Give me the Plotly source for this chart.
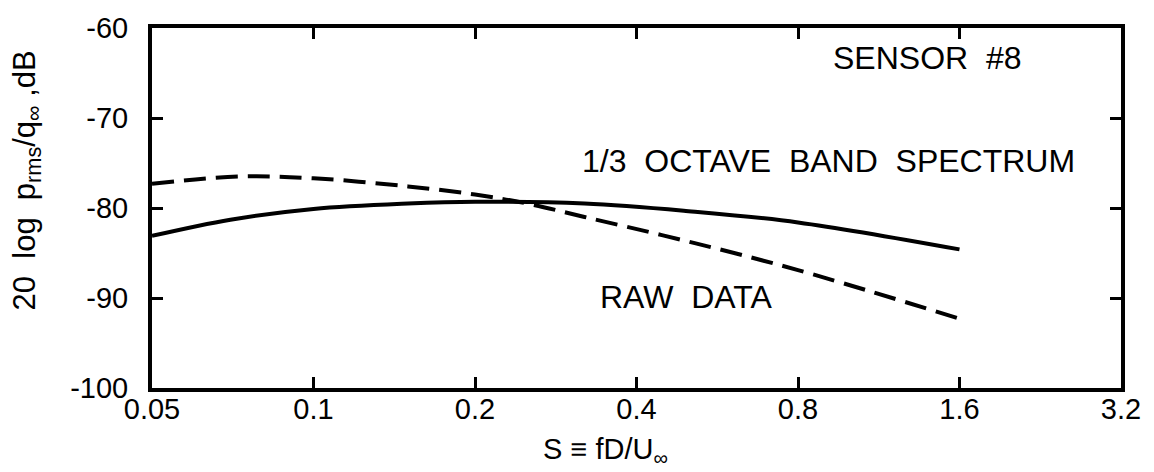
import plotly.graph_objects as go

# Strouhal number S = fD/U_inf
s_band = [0.05, 0.07, 0.1, 0.15, 0.2, 0.32, 0.49, 0.8, 1.6]
db_band = [-83.1, -81.3, -80.1, -79.5, -79.3, -79.5, -80.3, -81.6, -84.6]

s_raw = [0.05, 0.073, 0.1, 0.15, 0.2, 0.25, 0.32, 0.49, 0.8, 1.6]
db_raw = [-77.3, -76.5, -76.7, -77.6, -78.5, -79.5, -81.0, -83.6, -86.9, -92.3]

x_ticks = [0.05, 0.1, 0.2, 0.4, 0.8, 1.6, 3.2]
x_tick_text = ["0.05", "0.1", "0.2", "0.4", "0.8", "1.6", "3.2"]
y_ticks = [-60, -70, -80, -90, -100]
y_tick_text = ["-60", "-70", "-80", "-90", "-100"]

FONT = "Liberation Sans, Arial, sans-serif"
W, H = 1154, 472
L, R, T, B = 152, 33, 22, 84

fig = go.Figure()
fig.add_trace(go.Scatter(
    x=s_band, y=db_band, mode="lines", line_shape="spline",
    line=dict(color="black", width=4), showlegend=False,
))
fig.add_trace(go.Scatter(
    x=s_raw, y=db_raw, mode="lines", line_shape="spline",
    line=dict(color="black", width=4, dash="22px,10px"), showlegend=False,
))

axis_common = dict(
    showline=True, linecolor="black", linewidth=4, mirror="ticks",
    ticks="inside", ticklen=11, tickwidth=2.5, tickcolor="black",
    showgrid=False, zeroline=False,
    tickfont=dict(family=FONT, size=29, color="black"),
)

fig.update_xaxes(
    type="log", range=[-1.30103, 0.50515],
    tickvals=x_ticks, ticktext=x_tick_text,
    ticklabelstandoff=-8, **axis_common,
)
fig.update_yaxes(
    range=[-100, -60], tickvals=y_ticks, ticktext=y_tick_text,
    ticklabelstandoff=14, **axis_common,
)


def px_to_paper(px, py):
    return (px - L) / (W - L - R), (H - B - py) / (H - T - B)


def label(text, px, py, size=32, angle=0):
    xp, yp = px_to_paper(px, py)
    fig.add_annotation(
        text=text, x=xp, y=yp, xref="paper", yref="paper",
        showarrow=False, textangle=angle, xanchor="center", yanchor="middle",
        font=dict(family=FONT, size=size, color="black"),
    )


label("SENSOR  #8", 927, 52)
label("1/3  OCTAVE  BAND  SPECTRUM", 828, 157)
label("RAW  DATA", 686, 295)
label("S \u2261 fD/U<sub>\u221e</sub>", 605, 452, size=29)
label("20  log  p<sub>rms</sub>/q<sub>\u221e</sub> ,dB", 27, 177, size=31, angle=-90)

fig.update_layout(
    width=W, height=H,
    margin=dict(l=L, r=R, t=T, b=B),
    paper_bgcolor="white", plot_bgcolor="white",
)

fig.write_html("out.html")
